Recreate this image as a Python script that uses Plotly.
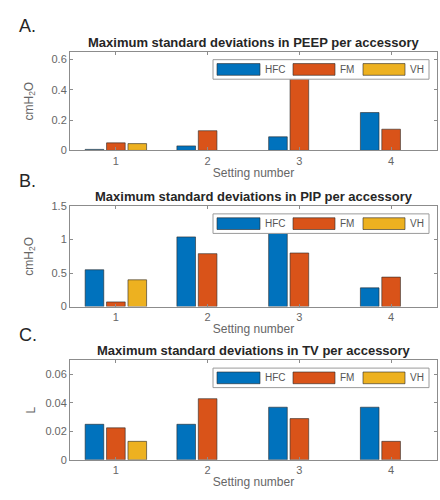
import plotly.graph_objects as go

settings = [1, 2, 3, 4]
tick_labels = ["1", "2", "3", "4"]
accessories = ["HFC", "FM", "VH"]

peep_hfc = [0.007, 0.03, 0.09, 0.25]
peep_fm = [0.05, 0.13, 0.52, 0.14]
peep_vh = [0.045, None, None, None]

pip_hfc = [0.55, 1.04, 1.13, 0.28]
pip_fm = [0.07, 0.79, 0.80, 0.44]
pip_vh = [0.40, None, None, None]

tv_hfc = [0.025, 0.025, 0.037, 0.037]
tv_fm = [0.0225, 0.043, 0.029, 0.013]
tv_vh = [0.013, None, None, None]

colors = ["#0072BD", "#D95319", "#EDB120"]
FONT = "Liberation Sans, Arial, Helvetica, sans-serif"
W, H = 440, 500

panels = [
    dict(series=[peep_hfc, peep_fm, peep_vh], title="Maximum standard deviations in PEEP per accessory",
         ytitle="cmH<sub>2</sub>O", ystand=15, yrange=[0, 0.65], ytick=[0, 0.2, 0.4, 0.6],
         ytext=["0", "0.2", "0.4", "0.6"], letter="A.", top=47, bottom=148),
    dict(series=[pip_hfc, pip_fm, pip_vh], title="Maximum standard deviations in PIP per accessory",
         ytitle="cmH<sub>2</sub>O", ystand=15, yrange=[0, 1.5], ytick=[0, 0.5, 1, 1.5],
         ytext=["0", "0.5", "1", "1.5"], letter="B.", top=205, bottom=308),
    dict(series=[tv_hfc, tv_fm, tv_vh], title="Maximum standard deviations in TV per accessory",
         ytitle="L", ystand=7, yrange=[0, 0.07], ytick=[0, 0.02, 0.04, 0.06],
         ytext=["0", "0.02", "0.04", "0.06"], letter="C.", top=363, bottom=465),
]


def px(x):
    return x / W


def py(y):
    return 1 - y / H


fig = go.Figure()
annotations = []
shapes = []
layout = {}
xdom = [px(70), px(437)]
# legend key layout (pixel offsets from legend box left)
legend_left, legend_right = 213, 429
key_offsets = [(4, 47), (80, 122), (150, 192)]

for i, p in enumerate(panels):
    sfx = "" if i == 0 else str(i + 1)
    for name, vals, col in zip(accessories, p["series"], colors):
        fig.add_trace(go.Bar(
            x=settings, y=vals, name=name,
            marker=dict(color=col, line=dict(color="rgba(40,40,40,0.75)", width=0.8)),
            xaxis="x" + sfx, yaxis="y" + sfx, showlegend=False,
        ))
    layout["xaxis" + sfx] = dict(
        domain=xdom, anchor="y" + sfx, range=[0.5, 4.5],
        tickmode="array", tickvals=settings, ticktext=tick_labels,
        showline=True, linecolor="#8c8c8c", linewidth=1, mirror="ticks",
        ticks="inside", ticklen=3, tickcolor="#8c8c8c", showgrid=False, zeroline=False,
        tickfont=dict(family=FONT, size=11, color="#666666"),
        title=dict(text="Setting number", font=dict(family=FONT, size=12, color="#666666"), standoff=2),
    )
    layout["yaxis" + sfx] = dict(
        domain=[py(p["bottom"]), py(p["top"])], anchor="x" + sfx, range=p["yrange"],
        tickmode="array", tickvals=p["ytick"], ticktext=p["ytext"],
        showline=True, linecolor="#8c8c8c", linewidth=1, mirror="ticks",
        ticks="inside", ticklen=3, tickcolor="#8c8c8c", showgrid=False, zeroline=False,
        tickfont=dict(family=FONT, size=11, color="#666666"),
        title=dict(text=p["ytitle"], font=dict(family=FONT, size=12, color="#666666"), standoff=p["ystand"]),
    )
    # legend box
    lt = p["top"] + 8
    lb = lt + 20
    shapes.append(dict(type="rect", xref="paper", yref="paper",
                       x0=px(legend_left), x1=px(legend_right), y0=py(lb), y1=py(lt),
                       fillcolor="white", line=dict(color="#9a9a9a", width=1), layer="above"))
    for name, col, (a, b) in zip(accessories, colors, key_offsets):
        shapes.append(dict(type="rect", xref="paper", yref="paper",
                           x0=px(legend_left + a), x1=px(legend_left + b), y0=py(lb - 4), y1=py(lt + 4),
                           fillcolor=col, line=dict(color="rgba(40,40,40,0.75)", width=0.8), layer="above"))
        annotations.append(dict(
            text=name, x=px(legend_left + b + 3), y=py((lt + lb) / 2),
            xref="paper", yref="paper", xanchor="left", yanchor="middle", showarrow=False,
            font=dict(family=FONT, size=10, color="#555555"),
        ))
    annotations.append(dict(
        text="<b>" + p["title"] + "</b>", x=(xdom[0] + xdom[1]) / 2, y=py(p["top"] - 10),
        xref="paper", yref="paper", xanchor="center", yanchor="middle", showarrow=False,
        font=dict(family=FONT, size=13, color="#262626"),
    ))
    annotations.append(dict(
        text=p["letter"], x=px(17), y=py(p["top"] - 26),
        xref="paper", yref="paper", xanchor="left", yanchor="middle", showarrow=False,
        font=dict(family=FONT, size=18, color="#262626"),
    ))

fig.update_layout(
    width=W, height=H, margin=dict(l=0, r=0, t=0, b=0),
    paper_bgcolor="white", plot_bgcolor="white",
    barmode="group", bargap=0.3, bargroupgap=0.13,
    annotations=annotations, shapes=shapes, **layout,
)

fig.write_html("out.html")
